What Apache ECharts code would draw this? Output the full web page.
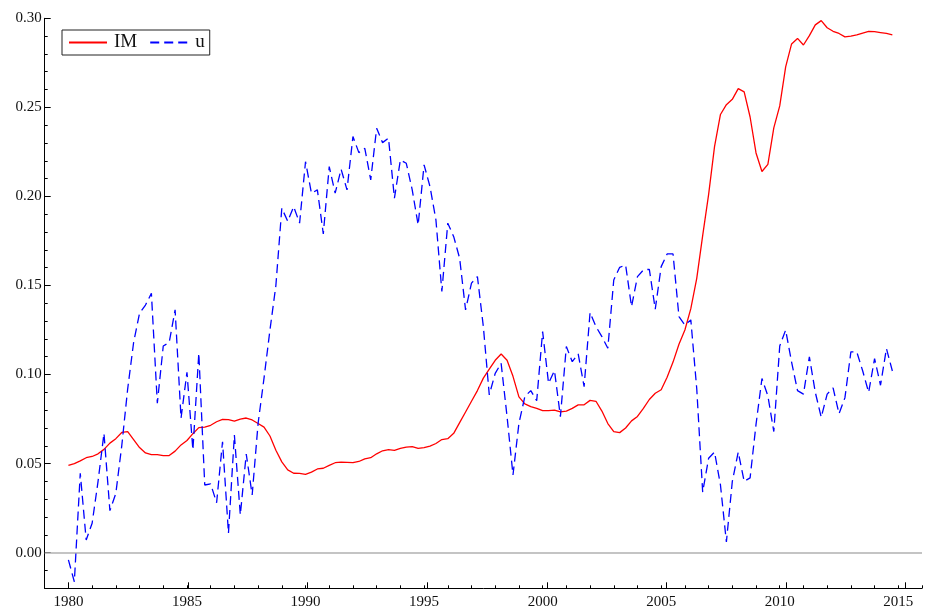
<!DOCTYPE html>
<html>
<head>
<meta charset="utf-8">
<script src="https://cdn.jsdelivr.net/npm/echarts@6/dist/echarts.min.js"></script>
<style>
  html, body { margin: 0; padding: 0; background: #fff; }
  #chart { width: 925px; height: 610px; }
</style>
</head>
<body>
<div id="chart"></div>
<script>
// Quarterly observations, 1980Q1 .. 2014Q4
const startYear = 1980;
const seriesNames = ['IM', 'u'];

const imValues = [
  0.049, 0.050, 0.0515, 0.0533,
  0.054, 0.0555, 0.058, 0.0615,
  0.064, 0.0675, 0.068, 0.0635,
  0.059, 0.056, 0.055, 0.055,
  0.0545, 0.0545, 0.057, 0.0605,
  0.063, 0.0668, 0.0702, 0.0705,
  0.0715, 0.0735, 0.0748, 0.0747,
  0.0738, 0.075, 0.0756, 0.0745,
  0.0725, 0.0705, 0.0655, 0.0575,
  0.051, 0.0465, 0.0446, 0.0445,
  0.044, 0.0452, 0.047, 0.0474,
  0.049, 0.0505, 0.0508, 0.0507,
  0.0505, 0.0512, 0.0527, 0.0533,
  0.0555, 0.0572, 0.0578, 0.0574,
  0.0585, 0.0593, 0.0595, 0.0585,
  0.059, 0.0598, 0.0613, 0.0635,
  0.064, 0.067, 0.073, 0.079,
  0.085, 0.091, 0.098, 0.103,
  0.108, 0.1115, 0.108, 0.099,
  0.0875, 0.0835, 0.082, 0.081,
  0.0797, 0.0798, 0.080, 0.079,
  0.0795, 0.081, 0.083, 0.083,
  0.0855, 0.085, 0.0795, 0.0725,
  0.068, 0.0674, 0.070, 0.074,
  0.0765, 0.081, 0.086, 0.0895,
  0.0915, 0.0985, 0.107, 0.117,
  0.125, 0.137, 0.154, 0.178,
  0.201, 0.228, 0.246, 0.2515,
  0.2545, 0.2605, 0.2587, 0.2446,
  0.2244, 0.214, 0.218, 0.2385,
  0.2508, 0.2727, 0.2856, 0.2887,
  0.285, 0.2903, 0.2963, 0.2987,
  0.2947, 0.2927, 0.2915, 0.2896,
  0.2900, 0.2907, 0.2917, 0.2927,
  0.2925, 0.292, 0.2915, 0.2907
];

const uValues = [
  -0.004, -0.0163, 0.0446, 0.0071,
  0.0165, 0.040, 0.067, 0.0236,
  0.0333, 0.060, 0.092, 0.118,
  0.1344, 0.139, 0.1456, 0.0839,
  0.116, 0.118, 0.1363, 0.0755,
  0.1013, 0.0577, 0.112, 0.038,
  0.0386, 0.028, 0.0623, 0.0109,
  0.066, 0.0212, 0.0554, 0.0324,
  0.0726, 0.098, 0.125, 0.150,
  0.1934, 0.186, 0.1943, 0.185,
  0.2195, 0.2018, 0.2037, 0.179,
  0.2167, 0.2018, 0.2153, 0.2037,
  0.2336, 0.2246, 0.227, 0.2093,
  0.2383, 0.2302, 0.2327, 0.199,
  0.2205, 0.2186, 0.2037, 0.184,
  0.2177, 0.2055, 0.1868, 0.1466,
  0.185, 0.1774, 0.1653, 0.1363,
  0.1513, 0.155, 0.1269, 0.0886,
  0.1007, 0.1063, 0.0764, 0.0436,
  0.0726, 0.0876, 0.091, 0.0853,
  0.1241, 0.0951, 0.1022, 0.0764,
  0.1157, 0.1072, 0.1116, 0.0932,
  0.1348, 0.1269, 0.1213, 0.1148,
  0.1531, 0.1602, 0.1615, 0.1381,
  0.155, 0.1587, 0.1591, 0.1367,
  0.1606, 0.1677, 0.1677, 0.1325,
  0.1278, 0.1307, 0.092, 0.034,
  0.053, 0.0565, 0.038, 0.006,
  0.040, 0.0565, 0.040, 0.042,
  0.072, 0.0978, 0.088, 0.068,
  0.116, 0.125, 0.107, 0.091,
  0.089, 0.110, 0.090, 0.076,
  0.089, 0.0925, 0.078, 0.087,
  0.1127, 0.1127, 0.102, 0.090,
  0.109, 0.094, 0.1146, 0.102
];

const xTickLabels = [1980, 1985, 1990, 1995, 2000, 2005, 2010, 2015];
const yTickLabels = ['0.00', '0.05', '0.10', '0.15', '0.20', '0.25', '0.30'];

const pairs = vals => vals.map((v, i) => [startYear + i / 4, v]);

const FONT = 'Liberation Serif';
const chart = echarts.init(document.getElementById('chart'), null, { renderer: 'canvas' });

const GRID_TOP = 18.3, GRID_BOTTOM = 21.7, GRID_LEFT = 44.7;

chart.setOption({
  animation: false,
  backgroundColor: '#ffffff',
  legend: {
    left: 62, top: 30,
    orient: 'horizontal',
    padding: [3, 5, 3, 6],
    borderColor: '#222', borderWidth: 1,
    itemWidth: 38, itemHeight: 14, itemGap: 12,
    itemStyle: { opacity: 0 },
    textStyle: { fontFamily: FONT, fontSize: 19, color: '#111', padding: [0, 0, 0, 2] },
    data: seriesNames
  },
  grid: [
    { left: GRID_LEFT, right: -4.6, top: GRID_TOP, bottom: GRID_BOTTOM, containLabel: false },
    { left: 68.3, right: 19.3, top: GRID_TOP, bottom: GRID_BOTTOM, containLabel: false },
    { left: GRID_LEFT, right: 1, top: GRID_TOP, bottom: 57.3, containLabel: false }
  ],
  xAxis: [
    {
      gridIndex: 0, type: 'value', min: 1979, max: 2016, interval: 1,
      axisLine: { show: true, onZero: false, lineStyle: { color: '#000', width: 1 } },
      axisTick: { show: true, inside: true, length: 3, lineStyle: { color: '#000' } },
      axisLabel: {
        fontFamily: FONT, fontSize: 15, color: '#111', margin: 6,
        formatter: v => (xTickLabels.indexOf(Math.round(v)) >= 0 && Math.abs(v - Math.round(v)) < 1e-6) ? String(Math.round(v)) : ''
      },
      splitLine: { show: false }
    },
    {
      gridIndex: 1, type: 'value', min: 1980, max: 2015, interval: 5,
      axisLine: { show: false, onZero: false },
      axisTick: { show: true, inside: true, length: 6, lineStyle: { color: '#000' } },
      axisLabel: { show: false },
      splitLine: { show: false }
    },
    { gridIndex: 2, type: 'value', min: 0, max: 1, show: false }
  ],
  yAxis: [
    {
      gridIndex: 0, type: 'value', min: -0.02, max: 0.30, interval: 0.01,
      axisLine: { show: true, onZero: false, lineStyle: { color: '#000', width: 1 } },
      axisTick: { show: true, inside: true, length: 3, lineStyle: { color: '#000' } },
      axisLabel: {
        fontFamily: FONT, fontSize: 15, color: '#111', margin: 3,
        formatter: v => {
          const s = v.toFixed(2);
          return yTickLabels.indexOf(s) >= 0 && Math.abs(v - parseFloat(s)) < 1e-6 ? s : '';
        }
      },
      splitLine: { show: false }
    },
    { gridIndex: 1, type: 'value', min: 0, max: 1, show: false },
    {
      gridIndex: 2, type: 'value', min: 0, max: 0.30, interval: 0.05,
      axisLine: { show: false, onZero: false },
      axisTick: { show: true, inside: true, length: 6, lineStyle: { color: '#000' } },
      axisLabel: { show: false },
      splitLine: { show: false }
    }
  ],
  series: [
    {
      name: 'IM', type: 'line', xAxisIndex: 0, yAxisIndex: 0,
      data: pairs(imValues),
      symbol: 'none', smooth: false,
      lineStyle: { color: '#ff0000', width: 1.3, type: 'solid' },
      itemStyle: { color: '#ff0000' },
      z: 3,
      markLine: {
        silent: true, symbol: 'none', animation: false,
        label: { show: false },
        lineStyle: { color: '#b0b0b0', width: 1.5, type: 'solid' },
        data: [{ yAxis: 0 }],
        z: 1
      }
    },
    {
      name: 'u', type: 'line', xAxisIndex: 0, yAxisIndex: 0,
      data: pairs(uValues),
      symbol: 'none', smooth: false,
      lineStyle: { color: '#0000ff', width: 1.3, type: [9, 5] },
      itemStyle: { color: '#0000ff' },
      z: 4
    }
  ]
});
</script>
</body>
</html>
